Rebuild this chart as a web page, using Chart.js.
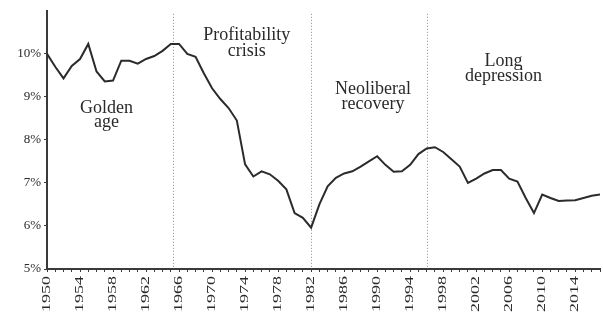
<!DOCTYPE html>
<html>
<head>
<meta charset="utf-8">
<script src="https://cdn.jsdelivr.net/npm/chart.js"></script>
<style>
  html, body { margin: 0; padding: 0; background: #fff; }
  #wrap { width: 603px; height: 318px; }
</style>
</head>
<body>
<div id="wrap"><canvas id="myChart" width="603" height="318"></canvas></div>
<script>
// profit rate, %
const years = [];
for (let y = 1950; y <= 2017; y++) years.push(y);

const profitRate = [
  10.0, 9.7, 9.43, 9.72, 9.88, 10.23, 9.59, 9.36, 9.38, 9.84,
  9.84, 9.77, 9.88, 9.95, 10.07, 10.23, 10.23, 10.0, 9.93, 9.55,
  9.2, 8.95, 8.74, 8.45, 7.43, 7.15, 7.27, 7.2, 7.05, 6.85,
  6.3, 6.19, 5.96, 6.5, 6.92, 7.12, 7.22, 7.27, 7.38, 7.5,
  7.62, 7.42, 7.26, 7.27, 7.42, 7.67, 7.8, 7.83, 7.72, 7.55,
  7.38, 7.0, 7.1, 7.22, 7.3, 7.3, 7.1, 7.03, 6.65, 6.3,
  6.73, 6.65, 6.58, 6.59, 6.6, 6.65, 6.7, 6.73
];

const yearLabelStep = 4;
const dividerYears = [1965.3, 1982, 1996];

// period labels: centre year, value, lines
const periodLabels = [
  { year: 1957.2, value: 8.74, text: 'Golden' },
  { year: 1957.2, value: 8.40, text: 'age' },
  { year: 1974.2, value: 10.42, text: 'Profitability' },
  { year: 1974.2, value: 10.07, text: 'crisis' },
  { year: 1989.5, value: 9.17, text: 'Neoliberal' },
  { year: 1989.5, value: 8.83, text: 'recovery' },
  { year: 2005.3, value: 9.83, text: 'Long' },
  { year: 2005.3, value: 9.48, text: 'depression' }
];

const serif = '"Liberation Serif", "DejaVu Serif", serif';

const overlay = {
  id: 'overlay',
  beforeDatasetsDraw(chart) {
    const ctx = chart.ctx;
    const xs = chart.scales.x;
    ctx.save();
    ctx.strokeStyle = '#8a8a8a';
    ctx.lineWidth = 1;
    ctx.setLineDash([1, 2]);
    dividerYears.forEach(function (yr) {
      const px = Math.round(xs.getPixelForValue(yr)) + 0.5;
      ctx.beginPath();
      ctx.moveTo(px, chart.chartArea.top + 3);
      ctx.lineTo(px, chart.chartArea.bottom);
      ctx.stroke();
    });
    ctx.restore();
  },
  afterDatasetsDraw(chart) {
    const ctx = chart.ctx;
    const xs = chart.scales.x, ys = chart.scales.y;
    ctx.save();
    ctx.fillStyle = '#2a2a2a';
    ctx.font = '18px ' + serif;
    ctx.textAlign = 'center';
    ctx.textBaseline = 'middle';
    periodLabels.forEach(function (l) {
      ctx.fillText(l.text, xs.getPixelForValue(l.year), ys.getPixelForValue(l.value));
    });

    // year labels, rotated and drawn a bit stretched like the original
    ctx.font = '12px ' + serif;
    ctx.textAlign = 'right';
    ctx.textBaseline = 'middle';
    const top = chart.chartArea.bottom + 7;
    for (let y = years[0]; y < years[years.length - 1]; y += yearLabelStep) {
      ctx.save();
      ctx.translate(xs.getPixelForValue(y), top);
      ctx.rotate(-Math.PI / 2);
      ctx.scale(1.5, 1);
      ctx.fillText(String(y), 0, 0);
      ctx.restore();
    }
    ctx.restore();
  }
};

const ctx = document.getElementById('myChart').getContext('2d');
const chart = new Chart(ctx, {
  type: 'line',
  data: {
    datasets: [{
      data: years.map(function (y, i) { return { x: y, y: profitRate[i] }; }),
      borderColor: '#2b2b2b',
      borderWidth: 2,
      pointRadius: 0,
      tension: 0,
      fill: false
    }]
  },
  options: {
    responsive: false,
    animation: false,
    events: [],
    layout: { autoPadding: false, padding: { top: 5, right: 0, left: 0, bottom: 0 } },
    plugins: { legend: { display: false }, tooltip: { enabled: false } },
    scales: {
      x: {
        type: 'linear',
        min: 1950,
        max: 2017,
        afterFit: function (s) { s.height = 49; },
        border: { color: '#3a3a3a', width: 2 },
        grid: { drawOnChartArea: false, tickLength: 3, color: '#3a3a3a' },
        ticks: {
          stepSize: 1,
          autoSkip: false,
          maxRotation: 0,
          color: '#333',
          font: { family: serif, size: 12 },
          callback: function () { return ''; }
        }
      },
      y: {
        min: 5,
        max: 11,
        afterFit: function (s) { s.width = 47; },
        border: { color: '#3a3a3a', width: 2 },
        grid: {
          drawOnChartArea: false,
          tickLength: 3,
          color: function (c) { return c.tick && c.tick.value === 11 ? 'rgba(0,0,0,0)' : '#3a3a3a'; }
        },
        ticks: {
          stepSize: 1,
          padding: 3,
          color: '#2a2a2a',
          font: { family: serif, size: 13 },
          callback: function (v) { return v === 11 ? '' : v + '%'; }
        }
      }
    }
  },
  plugins: [overlay]
});
</script>
</body>
</html>
